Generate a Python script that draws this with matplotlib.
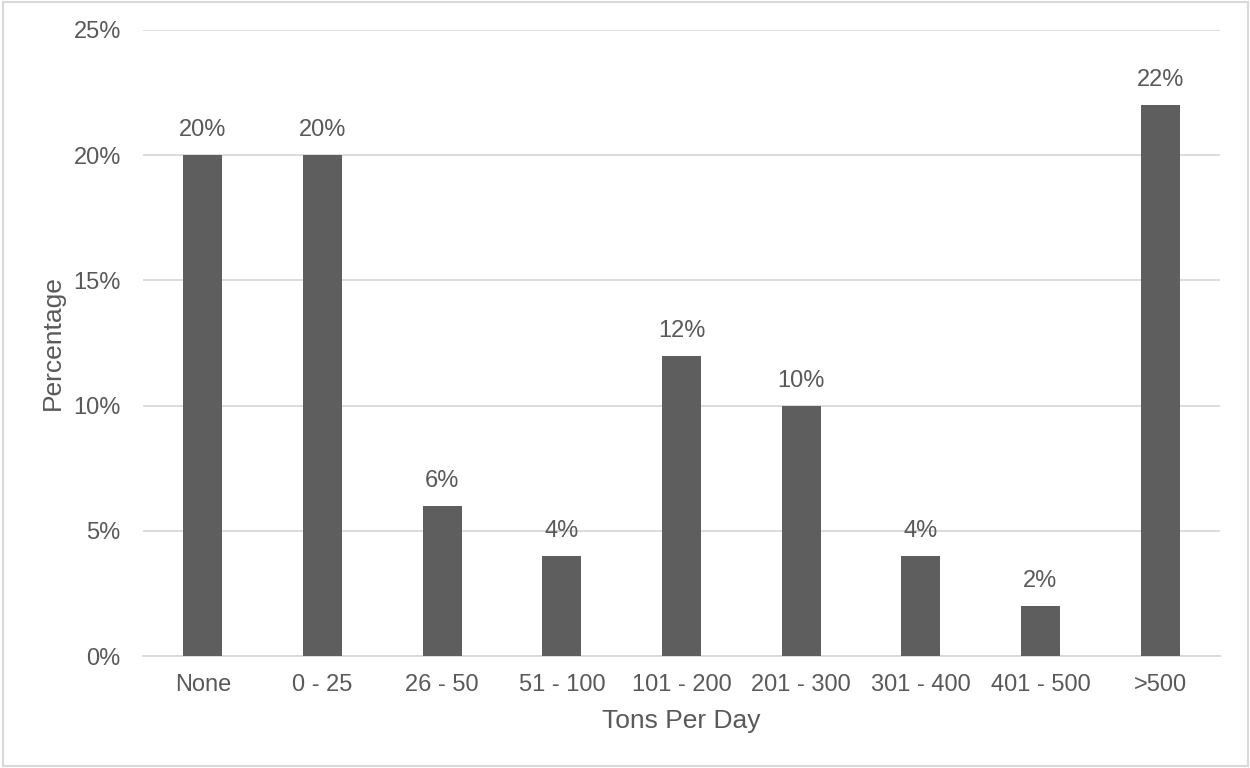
import matplotlib.pyplot as plt
from matplotlib.patches import Rectangle

categories = ['None', '0 - 25', '26 - 50', '51 - 100', '101 - 200',
              '201 - 300', '301 - 400', '401 - 500', '>500']
percentages = [20, 20, 6, 4, 12, 10, 4, 2, 22]
y_ticks = [0, 5, 10, 15, 20, 25]

plt.rcParams['font.family'] = ['Liberation Sans', 'DejaVu Sans']
text_color = '#595959'
grid_color = '#d9d9d9'

fig = plt.figure(figsize=(12.5, 7.68), dpi=100)
ax = fig.add_axes([0.1144, 0.1458, 0.8616, 0.8152])

x = range(len(categories))
ax.bar(x, percentages, width=0.326, color='#5e5e5e', zorder=3)

for i, v in enumerate(percentages):
    ax.annotate(f'{v}%', (i, v), xytext=(0, 13.5), textcoords='offset points',
                ha='center', va='baseline', fontsize=17, color=text_color)

ax.set_xlim(-0.5, len(categories) - 0.5)
ax.set_ylim(0, 25)
ax.set_yticks(y_ticks)
ax.set_yticklabels([f'{t}%' for t in y_ticks])
ax.set_xticks(list(x))
ax.set_xticklabels(categories)
ax.tick_params(axis='both', length=0, labelsize=17, colors=text_color)
ax.tick_params(axis='x', pad=13)
ax.tick_params(axis='y', pad=16)

ax.yaxis.grid(True, color=grid_color, linewidth=1.3, zorder=0)
for s in ['top', 'right', 'left']:
    ax.spines[s].set_visible(False)
ax.spines['bottom'].set_color(grid_color)
ax.spines['bottom'].set_linewidth(1.3)

ax.set_xlabel('Tons Per Day', fontsize=19, color=text_color, labelpad=9)
ax.set_ylabel('Percentage', fontsize=19, color=text_color, labelpad=6)

# light frame round the whole chart
fig.patches.append(Rectangle((0.002, 0.002), 0.996, 0.996, transform=fig.transFigure,
                             fill=False, edgecolor=grid_color, linewidth=1.5))

fig.savefig('out.png', dpi=100)
